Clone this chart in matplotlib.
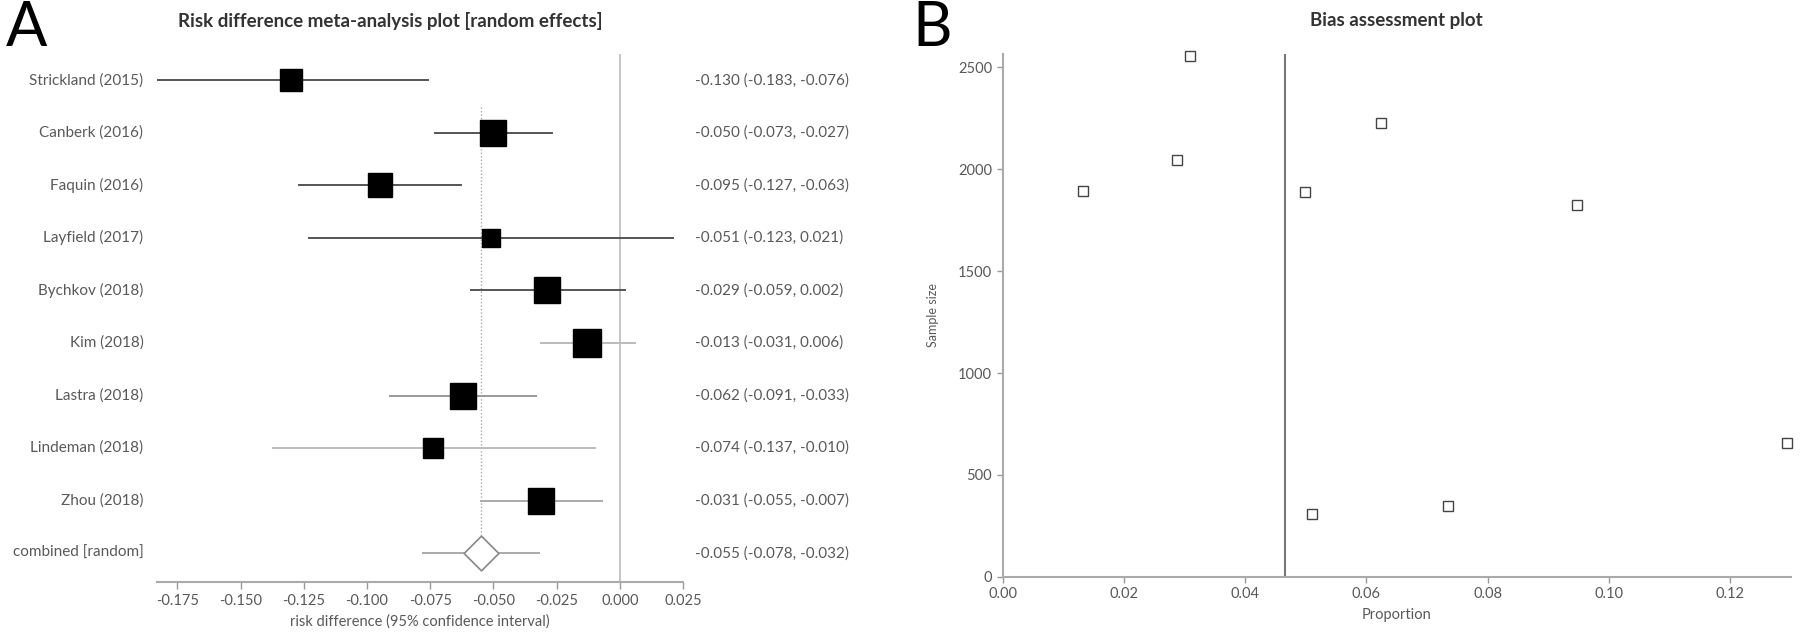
import numpy as np
import matplotlib
matplotlib.use("Agg")
import matplotlib.pyplot as plt
from matplotlib.transforms import blended_transform_factory

plt.rcParams["font.family"] = ["Lato", "DejaVu Sans"]
plt.rcParams["axes.unicode_minus"] = False

# forest plot data
studies = ["Strickland (2015)", "Canberk (2016)", "Faquin (2016)", "Layfield (2017)",
           "Bychkov (2018)", "Kim (2018)", "Lastra (2018)", "Lindeman (2018)", "Zhou (2018)"]
rd = [-0.130, -0.050, -0.095, -0.051, -0.029, -0.013, -0.062, -0.074, -0.031]
rd_lo = [-0.183, -0.073, -0.127, -0.123, -0.059, -0.031, -0.091, -0.137, -0.055]
rd_hi = [-0.076, -0.027, -0.063, 0.021, 0.002, 0.006, -0.033, -0.010, -0.007]
weights = [8.9, 13.4, 11.5, 6.0, 12.5, 14.4, 12.5, 7.4, 13.4]
combined_label = "combined [random]"
combined = -0.055
combined_lo = -0.078
combined_hi = -0.032
rd_ticks = [-0.175, -0.150, -0.125, -0.100, -0.075, -0.050, -0.025, 0.000, 0.025]

# bias assessment data
proportion = [0.0309, 0.0287, 0.0132, 0.0498, 0.0624, 0.0947, 0.0510, 0.0735, 0.1294]
sample_size = [2556, 2045, 1890, 1887, 2226, 1826, 307, 349, 656]
pooled_proportion = 0.0465

grey_text = "#595959"
ci_colours = ["#555555", "#555555", "#555555", "#555555", "#555555",
              "#bbbbbb", "#999999", "#bbbbbb", "#aaaaaa"]

fig = plt.figure(figsize=(18, 6.33), dpi=100)

# ---- panel A ----
ax = fig.add_axes([0.0873, 0.0806, 0.2922, 0.834])
rows = np.arange(len(studies))
n = len(studies)

ax.axvline(0, ymin=0, ymax=1, color="#bbbbbb", lw=1.2, zorder=1)
ax.plot([combined, combined], [0.5, n], color="#aaaaaa", lw=1.0, ls=(0, (1, 1.5)), zorder=1)

for i in rows:
    ax.plot([rd_lo[i], rd_hi[i]], [i, i], color=ci_colours[i], lw=1.4, zorder=2)
    ax.plot(rd[i], i, marker="s", color="black", ms=5.3 * np.sqrt(weights[i]),
            mec="black", zorder=3)

ax.plot([combined_lo, combined_hi], [n, n], color="#aaaaaa", lw=1.4, zorder=2)
diamond = [(0, 1), (1, 0), (0, -1), (-1, 0), (0, 1)]
ax.plot(combined, n, marker=diamond, ms=25, mfc="white", mec="#888888", mew=1.2, zorder=3)

trans = blended_transform_factory(ax.transAxes, ax.transData)
labels = studies + [combined_label]
est = rd + [combined]
los = rd_lo + [combined_lo]
his = rd_hi + [combined_hi]
for i, lab in enumerate(labels):
    ax.text(-0.026, i, lab, transform=trans, ha="right", va="center",
            fontsize=11, color=grey_text)
    ax.text(1.023, i, f"{est[i]:.3f} ({los[i]:.3f}, {his[i]:.3f})", transform=trans,
            ha="left", va="center", fontsize=11, color=grey_text)

ax.set_xlim(-0.183, 0.025)
ax.set_ylim(n + 0.55, -0.5)
ax.set_xticks(rd_ticks)
ax.set_xticklabels([f"{t:.3f}" for t in rd_ticks])
ax.set_yticks([])
for s in ["left", "right", "top"]:
    ax.spines[s].set_visible(False)
ax.spines["bottom"].set_color("#aaaaaa")
ax.spines["bottom"].set_linewidth(1.5)
ax.tick_params(axis="x", colors="#999999", labelcolor=grey_text, labelsize=10.5,
               length=5, width=1)
ax.set_xlabel("risk difference (95% confidence interval)", fontsize=10.5, color=grey_text,
              labelpad=5)

fig.text(0.217, 0.967, "Risk difference meta-analysis plot [random effects]",
         ha="center", va="center", fontsize=13.5, fontweight="bold", color="#333333")
fig.text(0.003, 1.0, "A", ha="left", va="top", fontsize=44, fontweight="normal")

# ---- panel B ----
bx = fig.add_axes([0.557, 0.0885, 0.438, 0.8265])
bx.axvline(pooled_proportion, color="#777777", lw=1.5, zorder=1)
bx.plot(proportion, sample_size, ls="none", marker="s", ms=7.5, mfc="white",
        mec="#444444", mew=1.0, zorder=3, clip_on=False)
bx.set_xlim(0, 0.13)
bx.set_ylim(0, 2565)
bx.set_xticks(np.arange(0, 0.13, 0.02))
bx.set_xticklabels([f"{t:.2f}" for t in np.arange(0, 0.13, 0.02)])
bx.set_yticks(np.arange(0, 2501, 500))
for s in ["right", "top"]:
    bx.spines[s].set_visible(False)
for s in ["left", "bottom"]:
    bx.spines[s].set_color("#aaaaaa")
    bx.spines[s].set_linewidth(1.5)
bx.tick_params(colors="#999999", labelcolor=grey_text, labelsize=10.5, length=4, width=1)
bx.set_xlabel("Proportion", fontsize=10.5, color=grey_text, labelpad=5)
bx.set_ylabel("Sample size", fontsize=9, color=grey_text, labelpad=14)

fig.text(0.776, 0.967, "Bias assessment plot", ha="center", va="center",
         fontsize=13.5, fontweight="bold", color="#333333")
fig.text(0.507, 1.0, "B", ha="left", va="top", fontsize=44, fontweight="normal")

fig.savefig("out.png", dpi=100)
